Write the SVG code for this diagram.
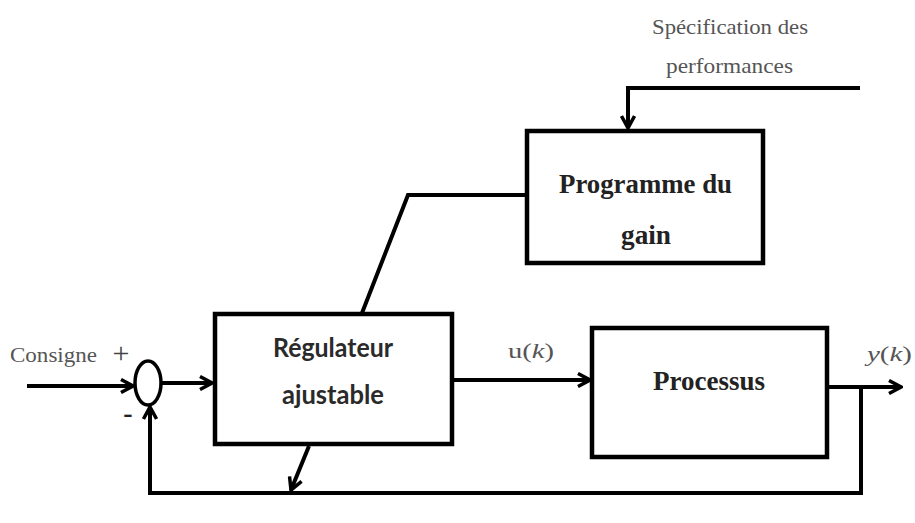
<svg xmlns="http://www.w3.org/2000/svg" width="915" height="523" viewBox="0 0 915 523">
  <style>
    .box { fill: #fff; stroke: #000; stroke-width: 4.5; }
    .wire { fill: none; stroke: #000; stroke-width: 4; stroke-linejoin: miter; }
    .serif { font-family: "Liberation Serif", "Times New Roman", serif; }
    .lbl { font-size: 22px; fill: #555; }
    .blk { font-size: 28px; font-weight: bold; fill: #222; }
    .sans { font-family: Lato, "Open Sans", "Liberation Sans", sans-serif; font-size: 26px; font-weight: bold; fill: #2a2a2a; }
  </style>
  <defs>
    <marker id="arrowBig" viewBox="0 0 16 16" refX="14" refY="8" markerWidth="16" markerHeight="16" markerUnits="userSpaceOnUse" orient="auto">
      <path d="M2,1.5 L14,8 L2,14.5" fill="none" stroke="#000" stroke-width="3.5"/>
    </marker>
  </defs>

  <!-- connectors -->
  <g id="connectors">
    <!-- set-point input -->
    <line class="wire" x1="27" y1="386" x2="133" y2="386" marker-end="url(#arrowBig)"/>
    <!-- summing junction to controller -->
    <line class="wire" x1="162" y1="383" x2="212" y2="383" marker-end="url(#arrowBig)"/>
    <!-- control signal u(k) -->
    <line class="wire" x1="452" y1="380" x2="590" y2="380" marker-end="url(#arrowBig)"/>
    <!-- output y(k) -->
    <line class="wire" x1="827" y1="387" x2="901" y2="387" marker-end="url(#arrowBig)"/>
    <!-- feedback path -->
    <polyline class="wire" points="861,387 861,493 150,493 150,407" marker-end="url(#arrowBig)"/>
    <!-- performance specification into gain schedule -->
    <polyline class="wire" points="860,88 628,88 628,128" marker-end="url(#arrowBig)"/>
    <!-- gain schedule to adjustable controller -->
    <polyline class="wire" points="527,195 408,195 362,313"/>
    <!-- adjustment arrow under the controller -->
    <line class="wire" x1="309" y1="446" x2="291" y2="490" marker-end="url(#arrowBig)"/>
  </g>

  <!-- summing junction -->
  <g id="sum">
    <ellipse cx="148" cy="383" rx="13" ry="22" fill="#fff" stroke="#000" stroke-width="3.5"/>
    <text class="serif" x="121" y="363" font-size="30" fill="#444" text-anchor="middle">+</text>
    <text class="serif" x="128" y="422" font-size="28" font-weight="bold" fill="#222" text-anchor="middle">-</text>
  </g>

  <g id="consigne">
    <text class="serif lbl" x="10" y="362" textLength="87" lengthAdjust="spacingAndGlyphs">Consigne</text>
  </g>

  <g id="regulateur">
    <rect class="box" x="215" y="314" width="237" height="130"/>
    <text class="sans" x="273" y="357" textLength="120" lengthAdjust="spacingAndGlyphs">Régulateur</text>
    <text class="sans" x="282" y="404" textLength="102" lengthAdjust="spacingAndGlyphs">ajustable</text>
  </g>

  <g id="processus">
    <rect class="box" x="592" y="328" width="235" height="129"/>
    <text class="serif blk" x="653" y="390" textLength="112" lengthAdjust="spacingAndGlyphs">Processus</text>
  </g>

  <g id="programme">
    <rect class="box" x="527" y="131" width="236" height="132"/>
    <text class="serif blk" x="559" y="193" textLength="173" lengthAdjust="spacingAndGlyphs">Programme du</text>
    <text class="serif blk" x="621" y="244" textLength="50" lengthAdjust="spacingAndGlyphs">gain</text>
  </g>

  <g id="specification">
    <text class="serif lbl" x="652" y="34" textLength="156" lengthAdjust="spacingAndGlyphs">Spécification des</text>
    <text class="serif lbl" x="666" y="73" textLength="127" lengthAdjust="spacingAndGlyphs">performances</text>
  </g>

  <g id="signal-labels">
    <text class="serif lbl" x="508" y="358" font-size="22" textLength="46" lengthAdjust="spacingAndGlyphs">u(<tspan font-style="italic">k</tspan>)</text>
    <text class="serif lbl" x="867" y="361" font-size="22" textLength="45" lengthAdjust="spacingAndGlyphs"><tspan font-style="italic">y</tspan>(<tspan font-style="italic">k</tspan>)</text>
  </g>
</svg>
